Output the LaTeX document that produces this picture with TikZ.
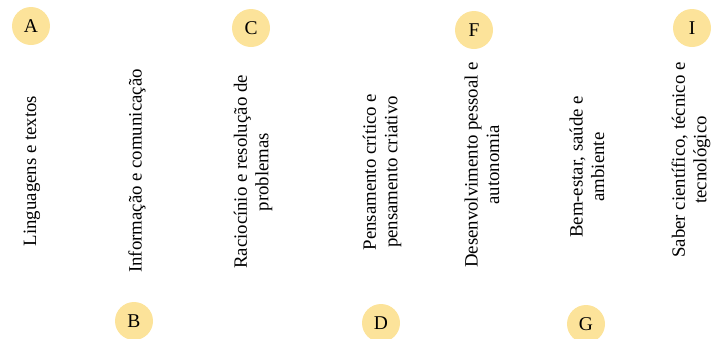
\documentclass[tikz,border=0pt]{standalone}
\usepackage{fontspec}
\setmainfont{Liberation Serif}
\usepackage{tikz}
\definecolor{badgeyellow}{HTML}{FCE39A}

\begin{document}
\begin{tikzpicture}[
    x=1pt, y=-1pt,
    badge/.style={circle, fill=badgeyellow, minimum size=38pt, inner sep=0pt,
      font=\fontsize{19.5}{22}\selectfont},
    skill/.style={rotate=90, align=center, inner sep=0pt,
      font=\fontsize{18.8}{21.5}\selectfont}
  ]
    \useasboundingbox (0,0) rectangle (712,338);
    \clip (0,0) rectangle (712,338);
    % letter badges
    \node[badge] (a) at (31,26) {A};
    \node[badge] (b) at (134,321) {B};
    \node[badge] (c) at (251,28) {C};
    \node[badge] (d) at (381,323) {D};
    \node[badge] (f) at (474,30) {F};
    \node[badge] (g) at (586,324) {G};
    \node[badge] (i) at (692,28) {I};
    % rotated labels
    \node[skill] (ling) at (32,171) {Linguagens e textos};
    \node[skill] (info) at (137,171) {Informação e comunicação};
    \node[skill] (raci) at (253,172) {Raciocínio e resolução de\\problemas};
    \node[skill] (pens) at (382,172) {Pensamento crítico e\\pensamento criativo};
    \node[skill] (dese) at (482,165) {Desenvolvimento pessoal e\\autonomia};
    \node[skill] (bem) at (587,167) {Bem-estar, saúde e\\ambiente};
    \node[skill] (sabe) at (691,160) {Saber científico, técnico e\\tecnológico};
  \end{tikzpicture}
\end{document}
